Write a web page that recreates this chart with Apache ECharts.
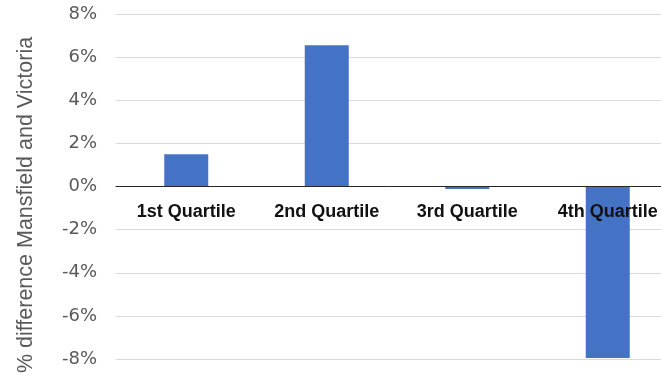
<!DOCTYPE html>
<html>
<head>
<meta charset="utf-8">
<script src="https://cdn.jsdelivr.net/npm/echarts@6/dist/echarts.min.js"></script>
<style>
html,body{margin:0;padding:0;background:#fff;}
#chart{width:661px;height:376px;}
</style>
</head>
<body>
<div id="chart"></div>
<script>
var categories = ['1st Quartile', '2nd Quartile', '3rd Quartile', '4th Quartile'];
var values = [1.5, 6.55, -0.12, -7.95];
var yMin = -8, yMax = 8, yInterval = 2;
var yAxisTitle = '% difference Mansfield and Victoria';

var gridTop = 14, gridBottom = 17, chartH = 376;
var plotH = chartH - gridTop - gridBottom;

var chart = echarts.init(document.getElementById('chart'));
chart.setOption({
  animation: false,
  backgroundColor: '#ffffff',
  grid: { left: 116, right: -17, top: gridTop, bottom: gridBottom, containLabel: false, outerBoundsMode: 'none' },
  xAxis: {
    type: 'category',
    data: categories,
    z: 10,
    position: 'bottom',
    offset: -plotH * (0 - yMin) / (yMax - yMin),
    axisLine: { onZero: false, lineStyle: { color: '#262626', width: 1 } },
    axisTick: { show: false },
    axisLabel: {
      interval: 0,
      hideOverlap: false,
      margin: 17,
      color: '#111111',
      fontFamily: 'Liberation Sans, Arial, sans-serif',
      fontWeight: 'bold',
      fontSize: 18
    },
    splitLine: { show: false }
  },
  yAxis: {
    type: 'value',
    min: yMin, max: yMax, interval: yInterval,
    axisLine: { show: false },
    axisTick: { show: false },
    axisLabel: {
      formatter: '{value}%',
      margin: 19,
      color: '#595959',
      fontFamily: 'DejaVu Sans, sans-serif',
      fontSize: 18
    },
    splitLine: { lineStyle: { color: '#d9d9d9', width: 1 } }
  },
  graphic: [{
    type: 'text',
    x: 26, y: 205,
    rotation: Math.PI / 2,
    style: {
      text: yAxisTitle,
      fill: '#595959',
      font: '21.5px "Liberation Sans", Arial, sans-serif',
      textAlign: 'center',
      textVerticalAlign: 'middle'
    }
  }],
  series: [{
    type: 'bar',
    data: values,
    barWidth: 44,
    itemStyle: { color: '#4472C4' }
  }]
});
</script>
</body>
</html>
